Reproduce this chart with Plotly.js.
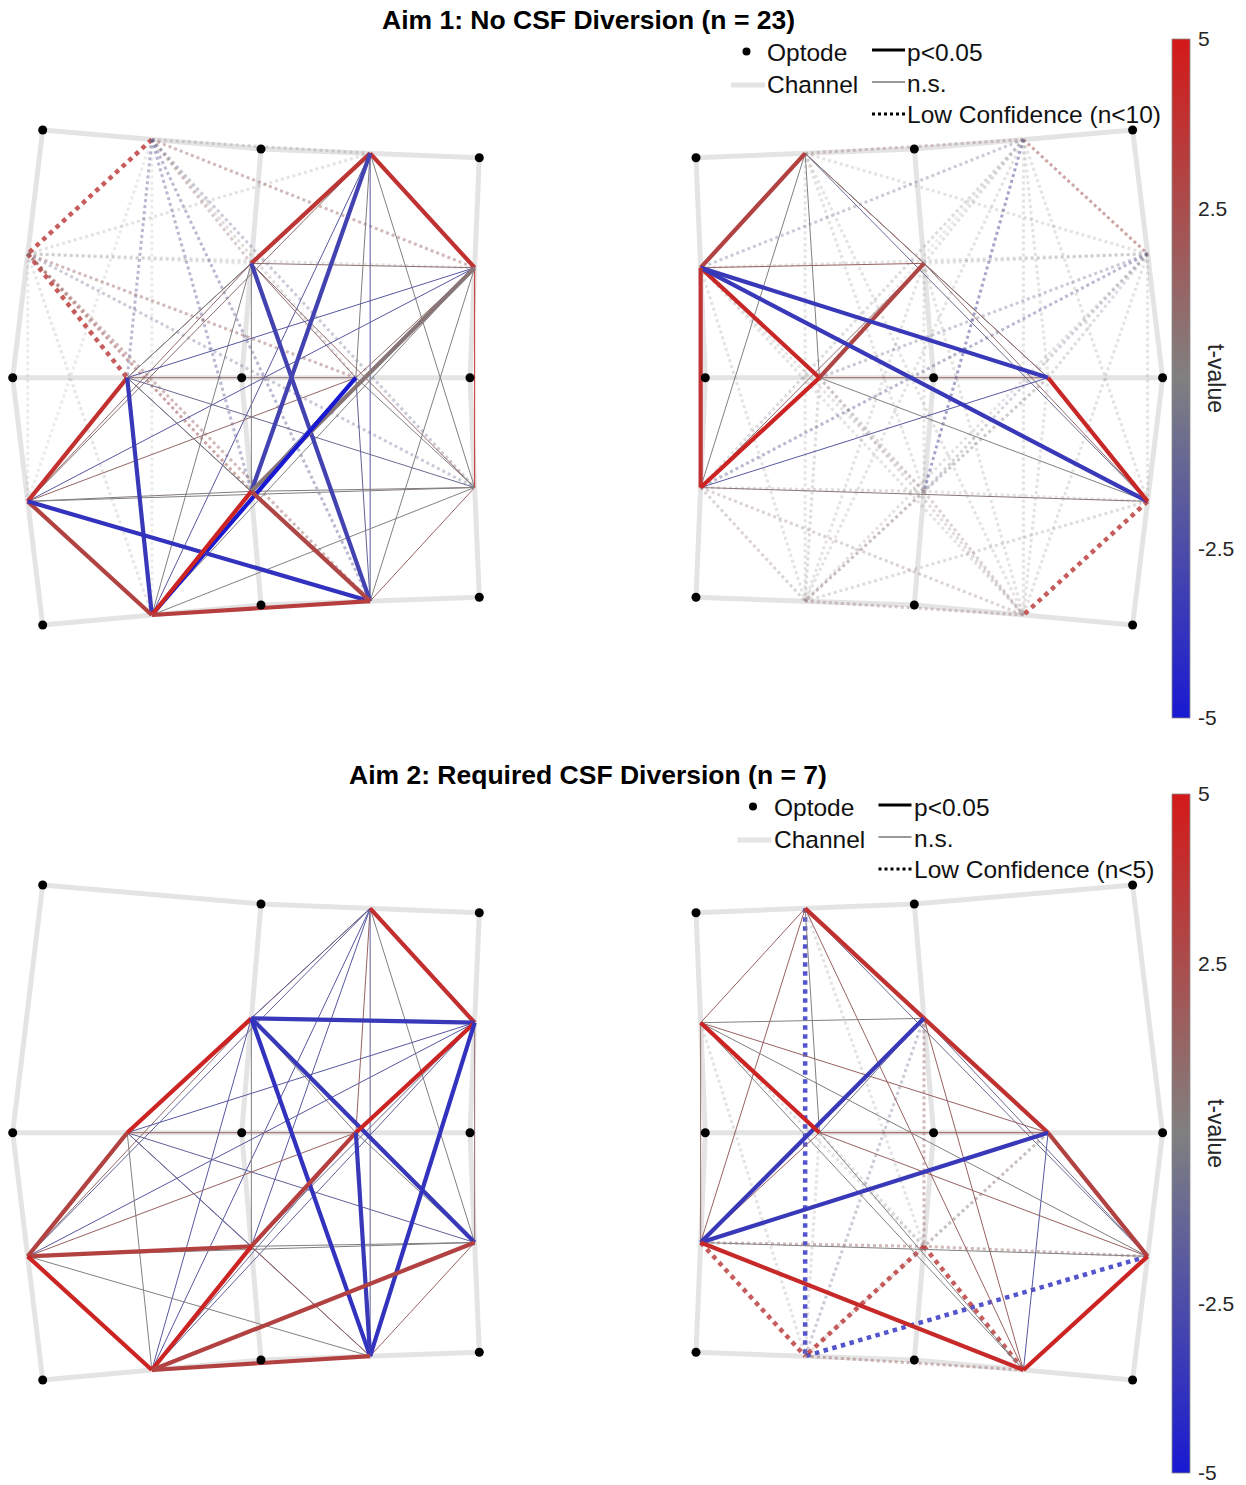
<!DOCTYPE html>
<html><head><meta charset="utf-8">
<script src="https://cdn.plot.ly/plotly-3.0.1.min.js"></script>
<style>html,body{margin:0;padding:0;background:#fff}#chart{width:1246px;height:1485px}</style>
</head><body><div id="chart"></div>
<script>
// ---------------- DATA ----------------
const channelNames = ['A','B','C','D','E','F','G','H','I','J','K','L'];
// left-hemisphere optode layout (3x3 grid); right hemisphere is its mirror image
const optodeX = [42.7, 261, 479.3, 12.7, 241.7, 470, 42.7, 261, 479.3];
const optodeY = [130, 149, 157.7, 377.7, 377.7, 377.7, 625, 605, 597.3];
const mirrorX = 1175.3;
// each channel = source/detector optode pair
const channelOptodes = [[0,1],[1,2],[0,3],[1,4],[2,5],[3,4],[4,5],[3,6],[4,7],[5,8],[6,7],[7,8]];

const pairsAll = ['AB','AC','AD','AE','AF','AG','AH','AI','AJ','AK','AL',
  'BC','CD','CE','CF','CG','CH','CI','CJ','CK','CL',
  'BD','BE','BF','BG','BH','BI','BJ','BK','BL',
  'DE','DF','DG','DH','DI','DJ','DK','DL',
  'EF','EG','EH','EI','EJ','EK','EL',
  'FG','FH','FI','FJ','FK','FL',
  'GH','GI','GJ','GK','GL',
  'HI','HJ','HK','HL',
  'IJ','IK','IL',
  'JK','JL',
  'KL'];
const pairsNoAC = pairsAll.slice(21);

// Aim 1, left hemisphere
const aim1LeftT = [0.6,3.5,1.0,1.5,-1.5,0.5,0.0,-1.5,-1.0,0.0,-1.5,
  0.3,0.2,0.3,3.5,1.5,0.0,2.0,-1.0,0.2,1.5,
  3.6,3.8,1.0,0.2,0.8,-3.0,0.0,-2.0,-2.0,
  0.8,0.0,1.0,1.0,0.0,1.0,0.0,-3.0,
  -2.0,1.0,-2.0,0.5,4.2,0.0,0.0,
  1.0,3.9,0.3,-1.0,-3.5,-0.5,
  1.2,-1.5,0.0,-5.0,-1.5,
  0.3,0.0,3.0,-3.8,
  0.3,4.5,2.8,
  0.0,1.5,
  3.2];
const aim1LeftStyle = ('ddddddddddd'+'dddddddddd'+'ssnnnsnnn'+'nnnnnnns'+'nnnsnnn'+'nsnnsn'+'nnnsn'+'nnss'+'nss'+'nn'+'s').split('');

// Aim 1, right hemisphere
const aim1RightT = [1.0,2.0,0.3,-1.0,0.3,0.0,0.3,-2.0,-0.5,0.3,0.3,
  0.3,0.3,0.3,-0.5,-1.0,0.3,-0.8,-1.5,0.3,0.3,
  3.0,3.0,0.0,0.0,-1.0,0.3,0.0,0.3,0.3,
  1.5,1.0,2.8,1.0,0.3,1.0,0.3,0.3,
  -3.5,4.3,-3.5,0.3,3.8,0.3,0.3,
  1.5,4.3,0.3,-2.0,0.3,0.3,
  0.0,0.5,4.5,0.5,0.5,
  0.3,0.5,3.5,0.5,
  0.5,0.8,0.8,
  0.8,0.8,
  1.0];
const aim1RightStyle = ('ddddddddddd'+'dddddddddd'+'nsnnndndd'+'nnsndndd'+'sssdsdd'+'nsdndd'+'ndsdd'+'dndd'+'ddd'+'dd'+'d').split('');

// Aim 2, left hemisphere (channels A and C absent)
const aim2LeftT = [1.5,4.0,-1.5,1.5,-1.5,-2.0,0.0,-2.0,-1.5,
  -3.5,4.5,0.0,1.0,0.0,-3.5,-2.0,-3.8,
  -2.0,4.5,-2.0,-1.0,1.0,-1.5,-3.8,
  1.5,3.0,-2.0,-1.5,0.0,-1.0,
  1.5,3.2,0.0,-1.0,-3.5,
  3.0,0.0,4.5,0.0,
  0.0,4.5,1.5,
  3.0,1.5,
  3.0];
const aim2LeftStyle = ('nsnnnnnnn'+'ssnnnsns'+'nsnnnns'+'nsnnnn'+'nsnns'+'snsn'+'nsn'+'sn'+'s').split('');

// Aim 2, right hemisphere (channels A and C absent)
const aim2RightT = [3.8,1.5,1.0,0.0,-1.0,0.3,1.5,1.5,-4.0,
  0.0,3.8,-0.5,-1.0,1.5,-3.5,1.5,-1.0,
  1.5,4.5,0.0,0.3,1.0,0.0,0.3,
  2.0,3.0,0.8,-3.5,-2.0,0.3,
  1.5,0.3,1.5,0.0,0.3,
  1.5,0.0,4.5,-4.0,
  1.5,3.5,3.5,
  4.2,3.5,
  1.5];
const aim2RightStyle = ('snnnndnnd'+'nsnndsnd'+'nsndnnd'+'nsdsnd'+'ndnnd'+'dnsd'+'ddd'+'sd'+'d').split('');

const tMin = -5, tMax = 5;
const cbTicks = [-5, -2.5, 2.5, 5];
const colorBlue = [25,25,210], colorGray = [128,128,128], colorRed = [212,25,25];

// ---------------- DRAWING ----------------
const FONT = 'Liberation Sans, Arial, Helvetica, sans-serif';
const chIdx = {}; channelNames.forEach((c,i)=>chIdx[c]=i);

function optXY(k, side){ return [side==='R' ? mirrorX - optodeX[k] : optodeX[k], optodeY[k]]; }
function chanXY(c, side){
  const [o1,o2] = channelOptodes[chIdx[c]];
  const a = optXY(o1,side), b = optXY(o2,side);
  return [(a[0]+b[0])/2, (a[1]+b[1])/2];
}
function tColor(t){
  let f = Math.max(-1, Math.min(1, t/tMax));
  const end = f >= 0 ? colorRed : colorBlue; f = Math.abs(f);
  const c = colorGray.map((g,i)=>Math.round(g + (end[i]-g)*f));
  return 'rgb('+c.join(',')+')';
}
const colorscale = [[0,'rgb('+colorBlue.join(',')+')'],[0.5,'rgb('+colorGray.join(',')+')'],[1,'rgb('+colorRed.join(',')+')']];

const traces = [];
const layers = {ch:[], d:[], n:[], s:[], opt:[]};

function addPanel(yaxis){
  const cx=[], cy=[];
  ['L','R'].forEach(side=>{
    channelOptodes.forEach(([o1,o2])=>{
      const a=optXY(o1,side), b=optXY(o2,side);
      cx.push(a[0],b[0],null); cy.push(a[1],b[1],null);
    });
  });
  layers.ch.push({type:'scatter',mode:'lines',x:cx,y:cy,xaxis:'x',yaxis:yaxis,
    line:{color:'#e4e4e4',width:5},hoverinfo:'skip',showlegend:false});
  const ox=[], oy=[];
  ['L','R'].forEach(side=>{ optodeX.forEach((_,k)=>{ const p=optXY(k,side); ox.push(p[0]); oy.push(p[1]); }); });
  layers.opt.push({type:'scatter',mode:'markers',x:ox,y:oy,xaxis:'x',yaxis:yaxis,
    marker:{color:'#000',size:9},hoverinfo:'skip',showlegend:false});
}
function addConnections(pairs, tv, style, side, yaxis){
  pairs.forEach((p,i)=>{
    const a = chanXY(p[0],side), b = chanXY(p[1],side);
    const t = tv[i], st = style[i];
    const tr = {type:'scatter',mode:'lines',x:[a[0],b[0]],y:[a[1],b[1]],xaxis:'x',yaxis:yaxis,
      hoverinfo:'skip',showlegend:false};
    if(st==='s'){ tr.line={color:tColor(t),width:4.2}; }
    else if(st==='n'){ tr.line={color:tColor(t),width:1}; }
    else { const w = Math.abs(t)>=3 ? 4.5 : 3;
      tr.line={color:tColor(t),width:w,dash:'dot'};
      tr.opacity = 0.16 + 0.66*Math.min(Math.abs(t)/3.5,1); }
    layers[st].push(tr);
  });
}
addPanel('y'); addPanel('y2');
addConnections(pairsAll, aim1LeftT, aim1LeftStyle, 'L', 'y');
addConnections(pairsAll, aim1RightT, aim1RightStyle, 'R', 'y');
addConnections(pairsNoAC, aim2LeftT, aim2LeftStyle, 'L', 'y2');
addConnections(pairsNoAC, aim2RightT, aim2RightStyle, 'R', 'y2');
traces.push(...layers.ch, ...layers.d, ...layers.n, ...layers.s, ...layers.opt);

// colorbars
const cbTopPx = 39, cbLenPx = 679, cbLeftPx = 1172, cbThick = 18;
function cbTrace(yaxis, offset){
  return {type:'scatter',mode:'markers',x:[null],y:[null],xaxis:'x',yaxis:yaxis,hoverinfo:'skip',showlegend:false,
    marker:{color:[0],cmin:tMin,cmax:tMax,colorscale:colorscale,showscale:true,opacity:0,
      colorbar:{x:cbLeftPx/1246,xanchor:'left',xref:'paper',y:1-(offset+cbTopPx+cbLenPx/2)/1485,yanchor:'middle',yref:'paper',
        len:cbLenPx,lenmode:'pixels',thickness:cbThick,thicknessmode:'pixels',xpad:0,ypad:0,
        outlinewidth:0.8,outlinecolor:'#8a8a8a',
        tickvals:cbTicks,ticktext:cbTicks.map(String),ticks:'outside',ticklen:4,tickcolor:'rgba(0,0,0,0)',
        tickfont:{family:FONT,size:21,color:'#262626'}}}};
}
traces.push(cbTrace('y',0), cbTrace('y2',755));

// legends, titles
const shapes=[], annotations=[];
function legend(yref, dx, lowText){
  const txt = {family:FONT,size:24.5,color:'#111'};
  shapes.push({type:'circle',xref:'x',yref:yref,x0:742.5+dx,x1:750.5+dx,y0:47.5,y1:55.5,fillcolor:'#000',line:{width:0}});
  shapes.push({type:'line',xref:'x',yref:yref,x0:731+dx,x1:765+dx,y0:85,y1:85,line:{color:'#e4e4e4',width:5}});
  shapes.push({type:'line',xref:'x',yref:yref,x0:872+dx,x1:905+dx,y0:50,y1:50,line:{color:'#000',width:3}});
  shapes.push({type:'line',xref:'x',yref:yref,x0:872+dx,x1:905+dx,y0:82,y1:82,line:{color:'#333',width:1}});
  shapes.push({type:'line',xref:'x',yref:yref,x0:872+dx,x1:905+dx,y0:114,y1:114,line:{color:'#000',width:3,dash:'dot'}});
  const items=[['Optode',765,52],['Channel',765,84],['p<0.05',905,52],['n.s.',905,83],[lowText,905,114]];
  items.forEach(([t,x,y])=>annotations.push({text:t.replace('<','&lt;'),x:x+dx,y:y,xref:'x',yref:yref,xanchor:'left',yanchor:'middle',showarrow:false,font:txt}));
}
legend('y',0,'Low Confidence (n<10)');
legend('y2',6.5,'Low Confidence (n<5)');
annotations.push({text:'<b>Aim 1: No CSF Diversion (n = 23)</b>',x:588,y:20,xref:'x',yref:'y',showarrow:false,xanchor:'center',yanchor:'middle',font:{family:FONT,size:26.5,color:'#000'}});
annotations.push({text:'<b>Aim 2: Required CSF Diversion (n = 7)</b>',x:588,y:20,xref:'x',yref:'y2',showarrow:false,xanchor:'center',yanchor:'middle',font:{family:FONT,size:26.5,color:'#000'}});
['y','y2'].forEach(yr=>annotations.push({text:'t-value',x:1216,y:378,xref:'x',yref:yr,textangle:90,showarrow:false,xanchor:'center',yanchor:'middle',font:{family:FONT,size:23,color:'#262626'}}));

const layout = {
  width:1246,height:1485,margin:{l:0,r:0,t:0,b:0},paper_bgcolor:'#fff',plot_bgcolor:'rgba(0,0,0,0)',showlegend:false,
  xaxis:{range:[0,1246],domain:[0,1],visible:false,fixedrange:true},
  yaxis:{range:[730,0],domain:[1-730/1485,1],visible:false,fixedrange:true,anchor:'x'},
  yaxis2:{range:[730,0],domain:[0,730/1485],visible:false,fixedrange:true,anchor:'x'},
  shapes:shapes,annotations:annotations,hovermode:false
};
Plotly.newPlot('chart',traces,layout,{staticPlot:true,displayModeBar:false}).then(gd=>{
  // small tick marks drawn on the colorbars, positioned from the colorbar's own scale
  const extra=[];
  [0,755].forEach(off=>{
    cbTicks.filter(v=>Math.abs(v)<tMax).forEach(v=>{
      const ypx = off + cbTopPx + (tMax - v)/(tMax - tMin)*cbLenPx;
      extra.push({type:'line',xref:'paper',yref:'paper',layer:'above',x0:(cbLeftPx+cbThick-6)/1246,x1:(cbLeftPx+cbThick)/1246,
        y0:1-ypx/1485,y1:1-ypx/1485,line:{color:'#555',width:1}});
    });
  });
  Plotly.relayout(gd,{shapes:shapes.concat(extra)});
});
</script></body></html>
